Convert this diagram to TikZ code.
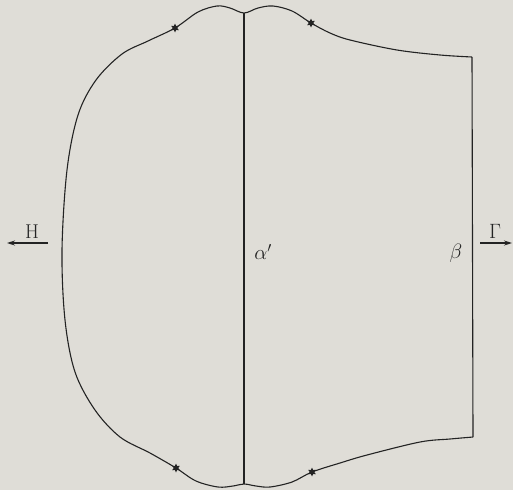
\documentclass[tikz,border=0pt]{standalone}
\usetikzlibrary{arrows.meta,shapes.geometric}
\definecolor{bg}{RGB}{223,221,215}
\definecolor{ink}{RGB}{35,35,35}
\begin{document}
\begin{tikzpicture}[x=1pt,y=-1pt,
  curve/.style={draw=ink,line width=1.1pt},
  starmark/.style={star,star points=6,star point ratio=2.0,fill=ink,draw=none,minimum size=9pt,inner sep=0pt},
  lbl/.style={text=ink,font=\fontsize{20}{23}\selectfont,inner sep=0pt},
  arr/.style={draw=ink,line width=1.1pt,-{Stealth[length=8pt,width=5pt]}}]
\fill[bg] (0,0) rectangle (513,490);
\useasboundingbox (0,0) rectangle (513,490);
% outline
\draw[curve] plot[smooth,tension=0.55] coordinates {
 (472,57) (440,55) (397,50) (350,40) (330,33) (311,23) (292,11) (273,6) (258,8) (244,13)
 (230,8) (217,6) (198,12) (175,28) (148,41) (122,54) (96,80) (78,115) (67,170)
 (62,250) (65,320) (75,372) (95,410) (120,437) (150,453) (176,468) (196,481)
 (218,487) (233,486) (244,484) (256,486) (270,487) (292,482) (312,472) (340,463) (367,455)
 (420,442) (450,439) (473,437)};
\draw[curve] (472,57) -- (473,437);
\draw[curve] (244,13) -- (244,484);
% stars
\node[starmark] (s1) at (175,28) {};
\node[starmark] (s2) at (311,23) {};
\node[starmark] (s3) at (176,468) {};
\node[starmark] (s4) at (312,472) {};
% labels
\node[lbl] (H) at (32,232) {H};
\node[lbl] (G) at (495,231) {$\Gamma$};
\node[lbl] (a) at (263,252) {$\alpha'$};
\node[lbl] (b) at (456,253) {$\beta$};
\coordinate (h1) at (48,243);
\coordinate (h2) at (7,243);
\coordinate (g1) at (480,243);
\coordinate (g2) at (512,243);
\draw[arr] (h1) -- (h2);
\draw[arr] (g1) -- (g2);
\end{tikzpicture}
\end{document}
